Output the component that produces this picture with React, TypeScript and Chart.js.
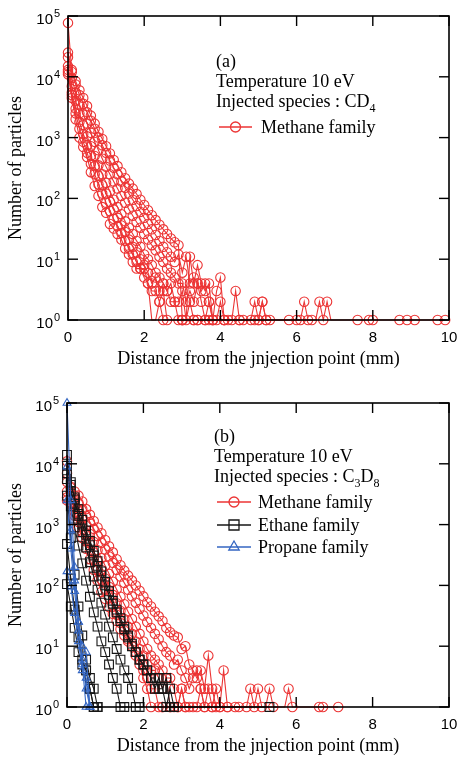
import React, { useEffect, useRef } from 'react';
import { Chart, registerables } from 'chart.js';

Chart.register(...registerables);

// ---------------- data ----------------
const DIST_STEP = 0.1; // mm between sampled distances (index i -> i * 0.1 mm)
const X_TICKS = [0, 2, 4, 6, 8, 10];
const Y_EXPONENTS = [0, 1, 2, 3, 4, 5];
const X_TITLE = 'Distance from the jnjection point (mm)';
const Y_TITLE = 'Number of particles';

// Panel (a): injected CD4, methane family curves (counts from x = 0 in 0.1 mm steps)
const aMethane1 = [77000, 12000, 7500, 5000, 3600, 2600, 1900, 1400, 1000, 750, 560, 420, 320, 250, 190, 150, 120, 95, 75, 60, 48, 38, 31, 25, 20, 16, 13, 11, 9, 12, 6, 11, 4, 5, 4, 3, 4, 2, 1, 3, 5, 1, 0];
const aMethane1Tail: [number, number][] = [[4.4, 3], [4.5, 1], [4.9, 2], [5.0, 1], [5.1, 2], [5.2, 1], [5.3, 1]];
const aMethane2 = [25000, 13000, 8500, 6000, 4500, 3300, 2300, 1700, 1250, 950, 720, 550, 430, 340, 270, 215, 175, 145, 118, 95, 78, 64, 53, 44, 37, 31, 26, 22, 19, 17, 1];
const aMethane2Tail: [number, number][] = [[3.2, 11], [3.3, 4], [3.4, 8], [3.5, 4], [3.6, 3], [3.7, 4], [3.8, 1], [4.0, 2], [4.1, 1], [4.6, 1], [6.2, 2], [6.3, 1], [6.6, 2], [6.7, 1], [6.8, 2], [6.9, 0], [7.6, 1], [7.9, 1], [8.0, 1], [8.7, 1], [8.9, 1], [9.1, 1], [9.7, 1], [9.9, 1]];
const aMethane3 = [21000, 9500, 5500, 3500, 2400, 1700, 1200, 850, 620, 450, 330, 250, 190, 145, 110, 85, 66, 52, 41, 33, 26, 21, 17, 14, 11, 9, 7, 6, 5, 4, 4, 2, 3, 2, 4, 2, 1, 2, 1, 0];
const aMethane3Tail: [number, number][] = [[4.3, 1], [4.9, 1], [5.1, 2], [5.2, 1], [6.0, 1], [6.4, 1]];
const aMethane4 = [15000, 7000, 4000, 2500, 1600, 1050, 720, 500, 350, 250, 180, 130, 95, 72, 55, 42, 33, 26, 20, 16, 12, 10, 8, 6, 5, 4, 3, 4, 2, 2, 3, 1, 2, 1, 1, 0];
const aMethane4Tail: [number, number][] = [[3.9, 1], [4.2, 1], [4.5, 1], [5.8, 1], [6.1, 1]];
const aMethane5 = [13000, 5500, 3000, 1800, 1150, 750, 500, 340, 235, 165, 120, 88, 65, 48, 36, 28, 21, 16, 13, 10, 8, 6, 4, 5, 3, 4, 3, 2, 2, 1, 1, 0];
const aMethane5Tail: [number, number][] = [[3.4, 1], [3.6, 1], [4.8, 1], [5.0, 1]];
const aMethane6 = [11000, 5000, 2500, 1400, 850, 560, 370, 250, 170, 120, 85, 62, 46, 35, 27, 20, 15, 12, 9, 7, 5, 4, 3, 3, 2, 3, 1, 0];
const aMethane6Tail: [number, number][] = [[3.0, 1], [3.3, 1], [3.7, 1], [4.1, 1]];
const aMethane7 = [12000, 4500, 2000, 1000, 700, 480, 270, 160, 110, 72, 58, 38, 32, 26, 21, 15, 12, 9, 7, 7, 7, 4, 0, 0, 2, 1, 0];

// Panel (b): injected C3D8
const bMethane1 = [11000, 4000, 3500, 3000, 2400, 1800, 1450, 1150, 900, 720, 560, 440, 350, 270, 215, 175, 145, 120, 100, 82, 66, 53, 45, 37, 31, 26, 20, 17, 15, 14, 9, 10, 5, 4, 3, 4, 2, 7, 2, 1, 1, 4, 1, 0];
const bMethane1Tail: [number, number][] = [[4.8, 2], [4.9, 1], [5.0, 2], [5.1, 1], [5.8, 2], [5.9, 1], [6.0, 0], [6.6, 1], [6.7, 1], [7.1, 1]];
const bMethane2 = [7000, 4200, 3000, 2300, 1800, 1400, 1100, 850, 650, 500, 390, 300, 235, 180, 140, 110, 85, 66, 52, 41, 32, 25, 20, 16, 13, 10, 8, 7, 5, 6, 4, 3, 2, 3, 4, 2, 1, 2, 1, 0];
const bMethane2Tail: [number, number][] = [[4.4, 1], [4.5, 1], [5.3, 2], [5.4, 1], [5.5, 0]];
const bMethane3 = [5000, 3400, 2500, 1800, 1300, 950, 700, 520, 380, 280, 210, 155, 115, 86, 65, 49, 37, 28, 21, 16, 12, 9, 7, 6, 5, 4, 3, 3, 2, 1, 2, 1, 0];
const bMethane3Tail: [number, number][] = [[3.5, 2], [3.6, 1], [3.9, 2], [4.0, 1], [4.2, 1], [4.7, 1]];
const bMethane4 = [3500, 2600, 1900, 1350, 950, 680, 490, 350, 250, 180, 130, 95, 70, 51, 38, 28, 21, 16, 12, 9, 7, 5, 4, 4, 3, 2, 3, 1, 1, 0];
const bMethane4Tail: [number, number][] = [[3.0, 2], [3.1, 1], [3.3, 1], [3.4, 1]];
const bMethane5 = [2800, 2300, 1600, 1100, 760, 530, 370, 260, 180, 125, 88, 63, 45, 33, 24, 18, 13, 10, 8, 6, 4, 3, 2, 2, 1, 1, 0];
const bMethane5Tail: [number, number][] = [[2.9, 1], [3.2, 1], [3.8, 1]];
const bMethane6 = [2500, 2200, 1400, 900, 600, 400, 270, 180, 120, 78, 60, 44, 34, 26, 19, 15, 12, 10, 7, 5, 3, 2, 1, 0];
const bMethane6Tail: [number, number][] = [[2.5, 1], [2.7, 1]];

const bEthane1 = [9300, 4500, 2800, 1800, 1200, 800, 540, 370, 250, 170, 115, 80, 56, 40, 29, 21, 15, 11, 8, 6, 5, 4, 3, 2, 3, 2, 1, 2, 0];
const bEthane1Tail: [number, number][] = [[5.3, 1]];
const bEthane2 = [14000, 5000, 2600, 1400, 750, 420, 240, 140, 85, 52, 33, 21, 14, 9, 6, 4, 3, 2, 1, 1, 0];
const bEthane3 = [5600, 2000, 900, 450, 230, 120, 65, 36, 21, 12, 8, 5, 3, 2, 1, 1, 0];
const bEthane4 = [3000, 600, 150, 45, 15, 6, 3, 2, 1, 0];
const bEthane5 = [480, 130, 40, 14, 6, 4, 2, 1, 1, 0];
const bEthane6 = [105, 45, 20, 8, 5, 4, 2, 1, 0];
const bEthane7 = [7000, 3500, 2200, 1500, 1000, 680, 460, 310, 210, 145, 100, 70, 50, 36, 26, 19, 14, 10, 8, 6, 5, 4, 3, 3, 2, 2, 3, 1, 1, 0];

const bPropane1 = [100000, 2500, 200, 25, 5, 1, 0];
const bPropane2 = [9000, 800, 120, 25, 6, 2, 1, 0];
const bPropane3 = [2500, 400, 80, 18, 10, 8, 1, 0];
const bPropane4 = [170, 95, 35, 12, 4, 3, 1, 0];

// ---------------- styling ----------------
const RED = '#ec3434';
const BLACK = '#161616';
const BLUE = '#3466c2';
const SERIF = '"Liberation Serif", "Times New Roman", serif';
const SANS = '"Liberation Sans", Arial, sans-serif';

type Pt = { x: number; y: number };

function series(head: number[], tail: [number, number][] = []): Pt[] {
  const pts: Pt[] = head.map((y, i) => ({ x: Math.round(i * DIST_STEP * 100) / 100, y }));
  let last = head.length - 1;
  for (const [d, y] of tail) {
    const idx = Math.round(d / DIST_STEP);
    for (let k = last + 1; k < idx; k++) pts.push({ x: Math.round(k * DIST_STEP * 100) / 100, y: 0 });
    pts.push({ x: d, y });
    last = idx;
  }
  return pts;
}

function ds(points: Pt[], color: string, style: string, radius: number) {
  return {
    data: points,
    parsing: false,
    borderColor: color,
    borderWidth: 1.1,
    backgroundColor: 'rgba(0,0,0,0)',
    fill: false,
    tension: 0,
    clip: false,
    pointStyle: style,
    pointBorderColor: color,
    pointBackgroundColor: 'rgba(0,0,0,0)',
    pointBorderWidth: 1.1,
    pointRadius: (c: any) => (c.raw && c.raw.y === 0 ? 0 : radius),
    pointHoverRadius: 0,
  };
}

type TextPart = { t: string; sub?: boolean };
type PanelSpec = {
  padding: { left: number; top: number; right: number; bottom: number };
  lines: { parts: TextPart[]; x: number; y: number }[];
  legend: { label: string; color: string; style: string; y: number }[];
  legendX: [number, number, number];
  datasets: any[];
};

function drawRich(ctx: CanvasRenderingContext2D, parts: TextPart[], x: number, y: number, size: number) {
  let cx = x;
  for (const p of parts) {
    ctx.font = `${p.sub ? Math.round(size * 0.66) : size}px ${SERIF}`;
    const yy = p.sub ? y + size * 0.25 : y;
    ctx.fillText(p.t, cx, yy);
    cx += ctx.measureText(p.t).width;
  }
}

function drawMarker(ctx: CanvasRenderingContext2D, style: string, x: number, y: number) {
  ctx.beginPath();
  if (style === 'circle') {
    ctx.arc(x, y, 5, 0, Math.PI * 2);
  } else if (style === 'rect') {
    ctx.rect(x - 5, y - 5, 10, 10);
  } else {
    const r = 6;
    ctx.moveTo(x, y - r);
    ctx.lineTo(x + r * 0.866, y + r * 0.5);
    ctx.lineTo(x - r * 0.866, y + r * 0.5);
    ctx.closePath();
  }
  ctx.stroke();
}

function paperPlugin(spec: PanelSpec) {
  return {
    id: 'paperAxes',
    afterDraw(chart: any) {
      const ctx: CanvasRenderingContext2D = chart.ctx;
      const { left, right, top, bottom } = chart.chartArea;
      const xs = chart.scales.x;
      const ys = chart.scales.y;
      ctx.save();
      ctx.strokeStyle = '#000';
      ctx.fillStyle = '#000';
      ctx.lineWidth = 1.6;
      ctx.strokeRect(left, top, right - left, bottom - top);
      ctx.lineWidth = 1.4;
      const seg = (x1: number, y1: number, x2: number, y2: number) => {
        ctx.beginPath();
        ctx.moveTo(x1, y1);
        ctx.lineTo(x2, y2);
        ctx.stroke();
      };
      for (const t of X_TICKS) {
        const px = xs.getPixelForValue(t);
        seg(px, bottom, px, bottom - 10);
        seg(px, top, px, top + 10);
      }
      for (const e of Y_EXPONENTS) {
        const py = ys.getPixelForValue(Math.pow(10, e));
        seg(left, py, left + 10, py);
        seg(right, py, right - 10, py);
      }
      // tick labels
      ctx.textBaseline = 'alphabetic';
      ctx.font = `15px ${SANS}`;
      ctx.textAlign = 'center';
      for (const t of X_TICKS) ctx.fillText(String(t), xs.getPixelForValue(t), bottom + 22);
      for (const e of Y_EXPONENTS) {
        const py = ys.getPixelForValue(Math.pow(10, e));
        ctx.font = `15px ${SANS}`;
        ctx.textAlign = 'right';
        ctx.fillText('10', left - 15, py + 8);
        ctx.font = `11px ${SANS}`;
        ctx.textAlign = 'left';
        ctx.fillText(String(e), left - 14, py + 1);
      }
      // axis titles
      ctx.font = `18px ${SERIF}`;
      ctx.textAlign = 'center';
      ctx.fillText(X_TITLE, (left + right) / 2, bottom + 44);
      ctx.save();
      ctx.translate(21, (top + bottom) / 2);
      ctx.rotate(-Math.PI / 2);
      ctx.fillText(Y_TITLE, 0, 0);
      ctx.restore();
      // annotation text
      ctx.textAlign = 'left';
      for (const l of spec.lines) drawRich(ctx, l.parts, l.x, l.y, 18);
      // legend
      const [x1, x2, tx] = spec.legendX;
      for (const item of spec.legend) {
        ctx.strokeStyle = item.color;
        ctx.lineWidth = 1.3;
        seg(x1, item.y, x2, item.y);
        drawMarker(ctx, item.style, (x1 + x2) / 2, item.y);
        ctx.fillStyle = '#000';
        ctx.font = `18px ${SERIF}`;
        ctx.fillText(item.label, tx, item.y + 6);
      }
      ctx.restore();
    },
  };
}

const panelA: PanelSpec = {
  padding: { left: 68, top: 16, right: 9, bottom: 59 },
  lines: [
    { parts: [{ t: '(a)' }], x: 216, y: 67 },
    { parts: [{ t: 'Temperature 10 eV' }], x: 216, y: 87 },
    { parts: [{ t: 'Injected species : CD' }, { t: '4', sub: true }], x: 216, y: 107 },
  ],
  legend: [{ label: 'Methane family', color: RED, style: 'circle', y: 127 }],
  legendX: [219, 252, 261],
  datasets: [
    ds(series(aMethane1, aMethane1Tail), RED, 'circle', 4.7),
    ds(series(aMethane2, aMethane2Tail), RED, 'circle', 4.7),
    ds(series(aMethane3, aMethane3Tail), RED, 'circle', 4.7),
    ds(series(aMethane4, aMethane4Tail), RED, 'circle', 4.7),
    ds(series(aMethane5, aMethane5Tail), RED, 'circle', 4.7),
    ds(series(aMethane6, aMethane6Tail), RED, 'circle', 4.7),
    ds(series(aMethane7), RED, 'circle', 4.7),
  ],
};

// Dataset order: earlier entries are drawn on top (propane, then ethane, then methane)
const panelB: PanelSpec = {
  padding: { left: 67, top: 24, right: 9, bottom: 51 },
  lines: [
    { parts: [{ t: '(b)' }], x: 214, y: 63 },
    { parts: [{ t: 'Temperature 10 eV' }], x: 214, y: 83 },
    { parts: [{ t: 'Injected species : C' }, { t: '3', sub: true }, { t: 'D' }, { t: '8', sub: true }], x: 214, y: 103 },
  ],
  legend: [
    { label: 'Methane family', color: RED, style: 'circle', y: 123 },
    { label: 'Ethane family', color: BLACK, style: 'rect', y: 146 },
    { label: 'Propane family', color: BLUE, style: 'triangle', y: 168 },
  ],
  legendX: [217, 251, 258],
  datasets: [
    ds(series(bPropane1), BLUE, 'triangle', 4.5),
    ds(series(bPropane2), BLUE, 'triangle', 4.5),
    ds(series(bPropane3), BLUE, 'triangle', 4.5),
    ds(series(bPropane4), BLUE, 'triangle', 4.5),
    ds(series(bEthane1, bEthane1Tail), BLACK, 'rect', 6.2),
    ds(series(bEthane2), BLACK, 'rect', 6.2),
    ds(series(bEthane3), BLACK, 'rect', 6.2),
    ds(series(bEthane4), BLACK, 'rect', 6.2),
    ds(series(bEthane5), BLACK, 'rect', 6.2),
    ds(series(bEthane6), BLACK, 'rect', 6.2),
    ds(series(bEthane7), BLACK, 'rect', 6.2),
    ds(series(bMethane1, bMethane1Tail), RED, 'circle', 4.7),
    ds(series(bMethane2, bMethane2Tail), RED, 'circle', 4.7),
    ds(series(bMethane3, bMethane3Tail), RED, 'circle', 4.7),
    ds(series(bMethane4, bMethane4Tail), RED, 'circle', 4.7),
    ds(series(bMethane5, bMethane5Tail), RED, 'circle', 4.7),
    ds(series(bMethane6, bMethane6Tail), RED, 'circle', 4.7),
  ],
};

function Panel({ spec }: { spec: PanelSpec }) {
  const ref = useRef<HTMLCanvasElement | null>(null);
  useEffect(() => {
    if (!ref.current) return;
    const chart = new Chart(ref.current, {
      type: 'line',
      data: { datasets: spec.datasets },
      options: {
        animation: false,
        responsive: false,
        events: [],
        layout: { padding: spec.padding },
        plugins: { legend: { display: false }, tooltip: { enabled: false } },
        scales: {
          x: { type: 'linear', min: 0, max: 10, display: false },
          y: { type: 'logarithmic', min: 1, max: 100000, display: false },
        },
      } as any,
      plugins: [paperPlugin(spec)],
    } as any);
    return () => chart.destroy();
  }, [spec]);
  return <canvas ref={ref} width={458} height={379} style={{ display: 'block', width: 458, height: 379 }} />;
}

export default function App() {
  return (
    <div style={{ position: 'absolute', left: 0, top: 0, width: 458, height: 758, background: '#fff' }}>
      <Panel spec={panelA} />
      <Panel spec={panelB} />
    </div>
  );
}
